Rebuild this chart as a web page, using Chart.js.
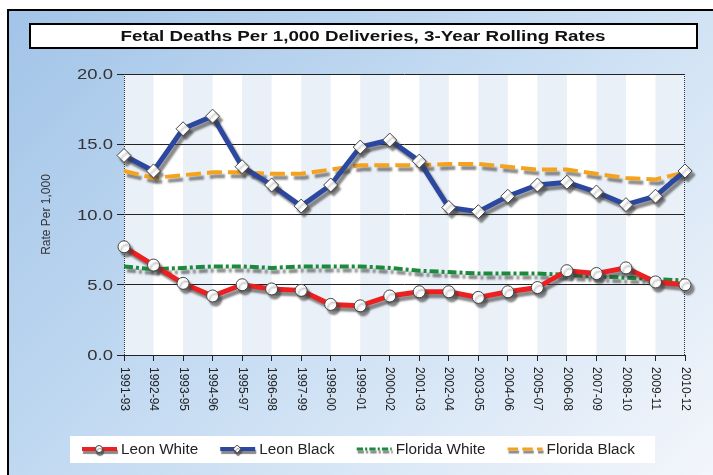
<!DOCTYPE html>
<html>
<head>
<meta charset="utf-8">
<script src="https://cdn.jsdelivr.net/npm/chart.js@4.4.1/dist/chart.umd.min.js"></script>
<style>
  html, body { margin: 0; padding: 0; background: #fff; overflow: hidden; width: 713px; height: 475px; }
  #frame {
    position: absolute; left: 7px; top: 9px; right: 0; bottom: 0;
    border-left: 2px solid #000; border-top: 2px solid #000;
    background: linear-gradient(135deg, #a2c4e8 0%, #c4dbf2 45%, #f3f6fb 100%);
  }
  #fetalChart { position: absolute; left: 0; top: 0; }
</style>
</head>
<body>
<div id="frame"></div>
<canvas id="fetalChart" width="713" height="475"></canvas>
<script>
// 3-year rolling windows
const years = ['1991-93', '1992-94', '1993-95', '1994-96', '1995-97', '1996-98', '1997-99',
  '1998-00', '1999-01', '2000-02', '2001-03', '2002-04', '2003-05', '2004-06', '2005-07',
  '2006-08', '2007-09', '2008-10', '2009-11', '2010-12'];

// fetal deaths per 1,000 deliveries
const leonWhite = [7.7, 6.4, 5.1, 4.2, 5.0, 4.7, 4.6, 3.6, 3.5, 4.2,
  4.5, 4.5, 4.1, 4.5, 4.8, 6.0, 5.8, 6.2, 5.2, 5.0];
const leonBlack = [14.2, 13.1, 16.1, 17.0, 13.4, 12.1, 10.6, 12.1, 14.8, 15.3,
  13.8, 10.5, 10.2, 11.3, 12.1, 12.3, 11.6, 10.7, 11.3, 13.1];
const floridaWhite = [6.3, 6.1, 6.2, 6.3, 6.3, 6.2, 6.3, 6.3, 6.3, 6.2,
  6.0, 5.9, 5.8, 5.8, 5.8, 5.7, 5.6, 5.5, 5.4, 5.3];
const floridaBlack = [13.1, 12.6, 12.8, 13.0, 13.0, 12.9, 12.9, 13.2, 13.5, 13.5,
  13.5, 13.6, 13.6, 13.4, 13.2, 13.2, 12.9, 12.6, 12.5, 13.0];

const yTicks = [0, 5, 10, 15, 20];
const chartTitle = 'Fetal Deaths Per 1,000 Deliveries, 3-Year Rolling Rates';
const yTitle = 'Rate Per 1,000';

const FONT = '"Liberation Sans", Arial, sans-serif';

// draws text squeezed/stretched horizontally
function wideText(ctx, str, x, y, sx, align) {
  ctx.save();
  ctx.translate(x, y);
  ctx.scale(sx, 1);
  ctx.textAlign = align;
  ctx.fillText(str, 0, 0);
  ctx.restore();
}

function setShadow(ctx) {
  ctx.shadowColor = 'rgba(60,60,60,0.6)';
  ctx.shadowOffsetX = 3;
  ctx.shadowOffsetY = 4;
  ctx.shadowBlur = 2;
}

function legendIcon(ctx, ds, x, y) {
  ctx.save();
  ctx.shadowColor = 'rgba(60,60,60,0.6)';
  ctx.shadowOffsetX = 1;
  ctx.shadowOffsetY = 3;
  ctx.shadowBlur = 1;
  ctx.strokeStyle = ds.borderColor;
  ctx.lineWidth = ds.borderWidth - 1;
  ctx.setLineDash(ds.borderDash ? ds.borderDash.map(d => d * 0.7) : []);
  ctx.beginPath();
  ctx.moveTo(x, y);
  ctx.lineTo(x + 35, y);
  ctx.stroke();
  ctx.setLineDash([]);
  if (ds.pointRadius > 0) {
    ctx.fillStyle = '#fff';
    ctx.strokeStyle = '#444';
    ctx.lineWidth = 1;
    ctx.beginPath();
    if (ds.pointStyle === 'rectRot') {
      ctx.moveTo(x + 17, y - 4); ctx.lineTo(x + 21, y);
      ctx.lineTo(x + 17, y + 4); ctx.lineTo(x + 13, y);
      ctx.closePath();
    } else {
      ctx.arc(x + 17, y, 3.5, 0, Math.PI * 2);
    }
    ctx.fill();
    ctx.stroke();
  }
  ctx.restore();
}

const decor = {
  id: 'decor',
  beforeDraw(chart) {
    const { ctx, chartArea: a, scales: { x } } = chart;
    ctx.save();
    ctx.fillStyle = '#fff';
    ctx.fillRect(a.left, a.top, a.width, a.height);
    ctx.fillStyle = '#eaf0f7';
    for (let i = 0; i < years.length - 1; i += 2) {
      const x0 = x.getPixelForValue(i), x1 = x.getPixelForValue(i + 1);
      ctx.fillRect(x0, a.top, x1 - x0, a.height);
    }
    ctx.restore();
  },
  beforeDatasetsDraw(chart) {
    const { ctx, chartArea: a } = chart;
    ctx.save();
    ctx.strokeStyle = '#333';
    ctx.lineWidth = 1;
    ctx.setLineDash([1, 1]);
    [a.left + 0.5, a.right - 0.5].forEach(px => {
      ctx.beginPath();
      ctx.moveTo(px, a.top);
      ctx.lineTo(px, a.bottom);
      ctx.stroke();
    });
    ctx.restore();
  },
  beforeDatasetDraw(chart) {
    chart.ctx.save();
    setShadow(chart.ctx);
  },
  afterDatasetDraw(chart) {
    chart.ctx.restore();
  },
  afterDraw(chart) {
    const { ctx, chartArea: a, scales: { x, y } } = chart;
    ctx.save();

    // title box
    ctx.fillStyle = '#fff';
    ctx.fillRect(30, 24, 667, 24);
    ctx.strokeStyle = '#000';
    ctx.lineWidth = 2;
    ctx.strokeRect(30, 24, 667, 24);
    ctx.fillStyle = '#111';
    ctx.font = 'bold 14px ' + FONT;
    ctx.textBaseline = 'middle';
    const tw = ctx.measureText(chartTitle).width;
    wideText(ctx, chartTitle, 363, 37, 485 / tw, 'center');

    // y tick labels
    ctx.fillStyle = '#333';
    ctx.font = '15px ' + FONT;
    y.ticks.forEach(t => {
      wideText(ctx, t.value.toFixed(1), 113, y.getPixelForValue(t.value) + 1, 1.23, 'right');
    });

    // y title
    ctx.font = '12px ' + FONT;
    ctx.save();
    ctx.translate(47, (a.top + a.bottom) / 2);
    ctx.rotate(-Math.PI / 2);
    ctx.textAlign = 'center';
    ctx.fillText(yTitle, 0, 0);
    ctx.restore();

    // x labels, reading downward
    ctx.fillStyle = '#222';
    ctx.font = '12px ' + FONT;
    years.forEach((lab, i) => {
      ctx.save();
      ctx.translate(x.getPixelForValue(i), a.bottom + 12);
      ctx.rotate(Math.PI / 2);
      ctx.textAlign = 'left';
      ctx.fillText(lab, 0, 0);
      ctx.restore();
    });

    // legend
    ctx.fillStyle = '#fff';
    ctx.fillRect(70, 436, 585, 27);
    ctx.font = '14px ' + FONT;
    const sx = 1.09;
    let lx = 82;
    chart.data.datasets.forEach(ds => {
      legendIcon(ctx, ds, lx, 449);
      ctx.fillStyle = '#222';
      wideText(ctx, ds.label, lx + 39, 450, sx, 'left');
      lx += 39 + ctx.measureText(ds.label).width * sx + 22;
    });

    ctx.restore();
  }
};

new Chart(document.getElementById('fetalChart'), {
  type: 'line',
  data: {
    labels: years,
    datasets: [
      {
        label: 'Leon White',
        data: leonWhite,
        borderColor: '#ec2020',
        borderWidth: 5,
        pointStyle: 'circle',
        pointRadius: 6,
        pointBackgroundColor: '#fff',
        pointBorderColor: '#444',
        pointBorderWidth: 1,
        clip: false
      },
      {
        label: 'Leon Black',
        data: leonBlack,
        borderColor: '#2c47a0',
        borderWidth: 5,
        pointStyle: 'rectRot',
        pointRadius: 7,
        pointBackgroundColor: '#fff',
        pointBorderColor: '#444',
        pointBorderWidth: 1,
        clip: false
      },
      {
        label: 'Florida White',
        data: floridaWhite,
        borderColor: '#1b8a3c',
        borderWidth: 4,
        borderDash: [9, 3, 3, 3],
        pointRadius: 0,
        clip: false
      },
      {
        label: 'Florida Black',
        data: floridaBlack,
        borderColor: '#f5a21c',
        borderWidth: 4,
        borderDash: [15, 6],
        pointRadius: 0,
        clip: false
      }
    ]
  },
  options: {
    responsive: false,
    animation: false,
    layout: { padding: { top: 74, right: 28, left: 0, bottom: 0 } },
    elements: { line: { tension: 0 } },
    scales: {
      x: {
        offset: false,
        grid: { drawOnChartArea: false, drawTicks: true, tickLength: 6, color: '#222' },
        border: { display: true, color: '#222', width: 1 },
        ticks: { display: false },
        afterFit(scale) { scale.height = 120; }
      },
      y: {
        min: 0,
        max: 20,
        afterBuildTicks(scale) { scale.ticks = yTicks.map(v => ({ value: v })); },
        grid: { color: '#222', lineWidth: 1, tickLength: 7 },
        border: { display: false },
        ticks: { display: false },
        afterFit(scale) { scale.width = 124; }
      }
    },
    plugins: {
      legend: { display: false },
      title: { display: false },
      tooltip: { enabled: false }
    }
  },
  plugins: [decor]
});
</script>
</body>
</html>
